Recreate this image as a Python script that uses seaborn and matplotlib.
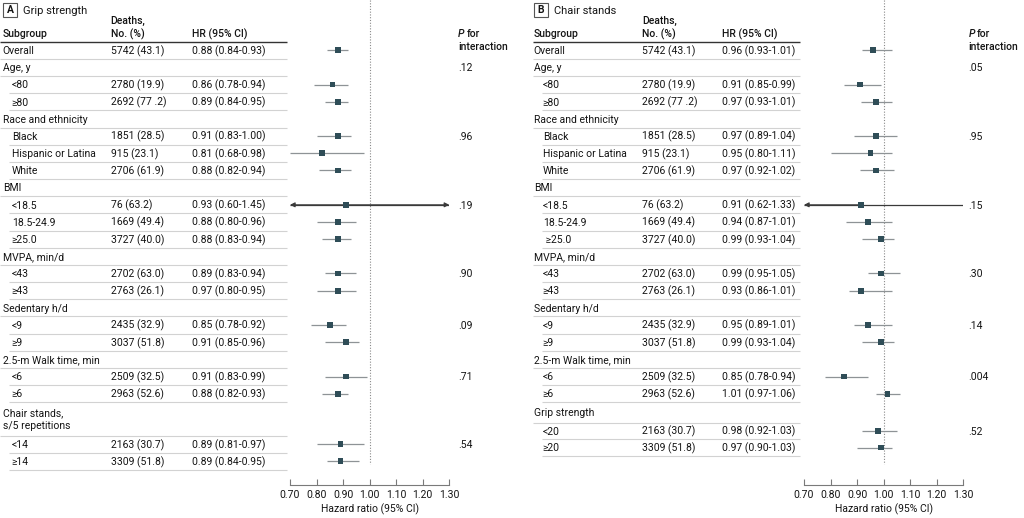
import matplotlib
matplotlib.use("Agg")
import matplotlib.pyplot as plt
from matplotlib.patches import Rectangle
import numpy as np
import pandas as pd
import seaborn as sns

nan = np.nan

# ---------------- Panel A: grip strength ----------------
a_title = "Grip strength"
a_subgroups = ["Overall", "Age, y", "<80", "≥80", "Race and ethnicity", "Black",
               "Hispanic or Latina", "White", "BMI", "<18.5", "18.5-24.9", "≥25.0",
               "MVPA, min/d", "<43", "≥43", "Sedentary h/d", "<9", "≥9",
               "2.5-m Walk time, min", "<6", "≥6", "Chair stands,\ns/5 repetitions",
               "<14", "≥14"]
a_is_sub = [0, 0, 1, 1, 0, 1, 1, 1, 0, 1, 1, 1, 0, 1, 1, 0, 1, 1, 0, 1, 1, 0, 1, 1]
a_deaths = ["5742 (43.1)", "", "2780 (19.9)", "2692 (77 .2)", "", "1851 (28.5)",
            "915 (23.1)", "2706 (61.9)", "", "76 (63.2)", "1669 (49.4)", "3727 (40.0)",
            "", "2702 (63.0)", "2763 (26.1)", "", "2435 (32.9)", "3037 (51.8)", "",
            "2509 (32.5)", "2963 (52.6)", "", "2163 (30.7)", "3309 (51.8)"]
a_hr_text = ["0.88 (0.84-0.93)", "", "0.86 (0.78-0.94)", "0.89 (0.84-0.95)", "",
             "0.91 (0.83-1.00)", "0.81 (0.68-0.98)", "0.88 (0.82-0.94)", "",
             "0.93 (0.60-1.45)", "0.88 (0.80-0.96)", "0.88 (0.83-0.94)", "",
             "0.89 (0.83-0.94)", "0.97 (0.80-0.95)", "", "0.85 (0.78-0.92)",
             "0.91 (0.85-0.96)", "", "0.91 (0.83-0.99)", "0.88 (0.82-0.93)", "",
             "0.89 (0.81-0.97)", "0.89 (0.84-0.95)"]
a_hr = [0.88, nan, 0.86, 0.88, nan, 0.88, 0.82, 0.88, nan, 0.91, 0.88, 0.88, nan,
        0.88, 0.88, nan, 0.85, 0.91, nan, 0.91, 0.88, nan, 0.89, 0.89]
a_lo = [0.84, nan, 0.79, 0.83, nan, 0.80, 0.70, 0.81, nan, 0.60, 0.80, 0.82, nan,
        0.83, 0.80, nan, 0.78, 0.83, nan, 0.83, 0.82, nan, 0.80, 0.84]
a_hi = [0.92, nan, 0.92, 0.92, nan, 0.93, 0.98, 0.93, nan, 1.45, 0.95, 0.93, nan,
        0.95, 0.95, nan, 0.91, 0.96, nan, 0.99, 0.92, nan, 0.98, 0.96]
a_p = ["", ".12", "", "", "", ".96", "", "", "", ".19", "", "", "", ".90", "", "",
       ".09", "", "", ".71", "", "", ".54", ""]

# ---------------- Panel B: chair stands ----------------
b_title = "Chair stands"
b_subgroups = ["Overall", "Age, y", "<80", "≥80", "Race and ethnicity", "Black",
               "Hispanic or Latina", "White", "BMI", "<18.5", "18.5-24.9", " ≥25.0",
               "MVPA, min/d", "<43", "≥43", "Sedentary h/d", "<9", "≥9",
               "2.5-m Walk time, min", "<6", "≥6", "Grip strength", "<20", "≥20"]
b_is_sub = [0, 0, 1, 1, 0, 1, 1, 1, 0, 1, 1, 1, 0, 1, 1, 0, 1, 1, 0, 1, 1, 0, 1, 1]
b_deaths = ["5742 (43.1)", "", "2780 (19.9)", "2692 (77 .2)", "", "1851 (28.5)",
            "915 (23.1)", "2706 (61.9)", "", "76 (63.2)", "1669 (49.4)", "3727 (40.0)",
            "", "2702 (63.0)", "2763 (26.1)", "", "2435 (32.9)", "3037 (51.8)", "",
            "2509 (32.5)", "2963 (52.6)", "", "2163 (30.7)", "3309 (51.8)"]
b_hr_text = ["0.96 (0.93-1.01)", "", "0.91 (0.85-0.99)", "0.97 (0.93-1.01)", "",
             "0.97 (0.89-1.04)", "0.95 (0.80-1.11)", "0.97 (0.92-1.02)", "",
             "0.91 (0.62-1.33)", "0.94 (0.87-1.01)", "0.99 (0.93-1.04)", "",
             "0.99 (0.95-1.05)", "0.93 (0.86-1.01)", "", "0.95 (0.89-1.01)",
             "0.99 (0.93-1.04)", "", "0.85 (0.78-0.94)", "1.01 (0.97-1.06)", "",
             "0.98 (0.92-1.03)", "0.97 (0.90-1.03)"]
b_hr = [0.96, nan, 0.91, 0.97, nan, 0.97, 0.95, 0.97, nan, 0.915, 0.94, 0.99, nan,
        0.99, 0.915, nan, 0.94, 0.99, nan, 0.85, 1.015, nan, 0.98, 0.99]
b_lo = [0.92, nan, 0.85, 0.915, nan, 0.89, 0.80, 0.91, nan, 0.62, 0.86, 0.92, nan,
        0.94, 0.87, nan, 0.89, 0.92, nan, 0.78, 0.97, nan, 0.92, 0.90]
b_hi = [1.03, nan, 0.99, 1.03, nan, 1.05, 1.03, 1.04, nan, 1.30, 1.03, 1.04, nan,
        1.06, 1.03, nan, 1.03, 1.04, nan, 0.94, 1.06, nan, 1.05, 1.03]
b_p = ["", ".05", "", "", "", ".95", "", "", "", ".15", "", "", "", ".30", "", "",
       ".14", "", "", ".004", "", "", ".52", ""]

x_ticks = [0.70, 0.80, 0.90, 1.00, 1.10, 1.20, 1.30]
x_tick_labels = ["0.70", "0.80", "0.90", "1.00", "1.10", "1.20", "1.30"]
x_label = "Hazard ratio (95% CI)"

# ---------------- styling / layout ----------------
sns.set_theme(style="white")
plt.rcParams['font.family'] = ['Roboto', 'DejaVu Sans']

W, H = 1024, 518
FS = 7.5
TXT = '#141414'
MARK = '#2f4d57'
CI_COL = '#8e9396'
ARROW_COL = '#3a3a3a'
SEP = '#d2d2d2'
CAP = 3.8
AX_BOTTOM = 485.0

fig = plt.figure(figsize=(W / 100, H / 100), dpi=100)
fig.patch.set_facecolor('white')
bg = fig.add_axes([0, 0, 1, 1])
bg.set_xlim(0, W)
bg.set_ylim(H, 0)
bg.axis('off')


def put(x, y, s, **kw):
    kw.setdefault('fontsize', FS)
    kw.setdefault('color', TXT)
    bg.text(x, y + CAP, s, va='baseline', ha=kw.pop('ha', 'left'), **kw)


def draw_panel(letter, title, x0, xdeath, xhr, line_l, line_r, indent, plot_l, plot_r,
               px, subgroups, is_sub, deaths, hr_text, hr, lo, hi, pvals, heights):
    # panel tag and title
    bg.add_patch(Rectangle((x0, 2.7), 14.6, 14.6, fill=False, ec='#555555', lw=0.8))
    bg.text(x0 + 7.3, 10.2, letter, ha='center', va='center', fontsize=FS,
            fontweight='bold', color=TXT)
    put(x0 + 20, 10, title, fontsize=FS + 0.5)
    # column headers
    hw = 'medium'
    put(x0, 33.3, "Subgroup", fontweight=hw)
    put(xdeath, 20, "Deaths,", fontweight=hw)
    put(xdeath, 33.3, "No. (%)", fontweight=hw)
    put(xhr, 33.3, "HR (95% CI)", fontweight=hw)
    put(px, 33.3, "P", fontweight=hw, fontstyle='italic')
    put(px + 8.5, 33.3, "for", fontweight=hw)
    put(px, 46.7, "interaction", fontweight=hw)
    top0 = 41.7
    bg.plot([line_l, line_r], [top0, top0], color='#333333', lw=1.0,
            solid_capstyle='butt')

    tops = top0 + np.concatenate([[0], np.cumsum(heights)[:-1]])
    bottoms = tops + np.asarray(heights)
    centers = tops + np.asarray(heights) / 2.0

    for i, lab in enumerate(subgroups):
        xl = x0 + (indent if is_sub[i] else 0)
        lines = lab.split("\n")
        if len(lines) == 1:
            put(xl, centers[i], lab)
        else:
            for k, ln in enumerate(lines):
                put(xl, tops[i] + 10 + 13.4 * k, ln)
        if deaths[i]:
            put(xdeath, centers[i], deaths[i])
        if hr_text[i]:
            put(xhr, centers[i], hr_text[i])
        if pvals[i]:
            put(px, centers[i], pvals[i])
        ls = line_l + (indent if is_sub[i] else 0)
        bg.plot([ls, line_r], [bottoms[i], bottoms[i]], color=SEP, lw=0.8,
                solid_capstyle='butt')

    # forest axes (y in pixel rows)
    ax = fig.add_axes([plot_l / W, (H - AX_BOTTOM) / H, (plot_r - plot_l) / W,
                       AX_BOTTOM / H])
    ax.patch.set_alpha(0)
    ax.set_xlim(0.70, 1.30)
    ax.set_ylim(AX_BOTTOM, 0)
    ax.vlines(1.0, 0, 464, colors='#8a8a8a', linestyles=(0, (1, 1.5)), lw=0.8)

    df = pd.DataFrame({'hr': hr, 'lo': lo, 'hi': hi, 'y': centers}).dropna()
    for _, r in df.iterrows():
        lo_c = max(r.lo, 0.70)
        hi_c = min(r.hi, 1.30)
        clipped = r.lo < 0.70 or r.hi > 1.30
        col = ARROW_COL if clipped else CI_COL
        ax.hlines(r.y, lo_c, hi_c, colors=col, lw=0.9, zorder=2)
        for lim, out in ((0.70, r.lo < 0.70), (1.30, r.hi > 1.30)):
            if out:
                ax.annotate('', xy=(lim, r.y), xytext=(r.hr, r.y),
                            arrowprops=dict(arrowstyle='-|>', color=ARROW_COL, lw=0.8,
                                            mutation_scale=7, shrinkA=0, shrinkB=0),
                            annotation_clip=False, zorder=2)
    sns.scatterplot(data=df, x='hr', y='y', marker='s', s=17, color=MARK,
                    edgecolor='none', linewidth=0, ax=ax, zorder=4, legend=False,
                    clip_on=False)
    ax.set_ylim(AX_BOTTOM, 0)
    ax.set_xlim(0.70, 1.30)
    for s in ('top', 'left', 'right'):
        ax.spines[s].set_visible(False)
    ax.spines['bottom'].set_color('#7a7a7a')
    ax.spines['bottom'].set_linewidth(0.8)
    ax.set_yticks([])
    ax.set_ylabel('')
    ax.set_xticks(x_ticks)
    ax.set_xticklabels(x_tick_labels)
    ax.tick_params(axis='x', direction='in', length=4, width=0.8, colors='#7a7a7a',
                   pad=3.5, labelsize=FS, labelcolor=TXT, bottom=True)
    ax.set_xlabel(x_label, fontsize=FS, color=TXT, labelpad=2.5)
    ax.grid(False)
    return ax


heights_a = [17.17] * 21 + [33.4, 17.0, 17.3]
heights_b = [17.17] * 21 + [20.4, 16.6, 16.7]

draw_panel("A", a_title, 2.7, 110.7, 191.7, 0, 287, 9, 290.0, 449.3, 458.0,
           a_subgroups, a_is_sub, a_deaths, a_hr_text, a_hr, a_lo, a_hi, a_p, heights_a)
draw_panel("B", b_title, 533.7, 642.0, 722.0, 533.0, 800.0, 9, 804.0, 963.3, 968.7,
           b_subgroups, b_is_sub, b_deaths, b_hr_text, b_hr, b_lo, b_hi, b_p, heights_b)

fig.savefig("out.png", dpi=100, facecolor='white')
